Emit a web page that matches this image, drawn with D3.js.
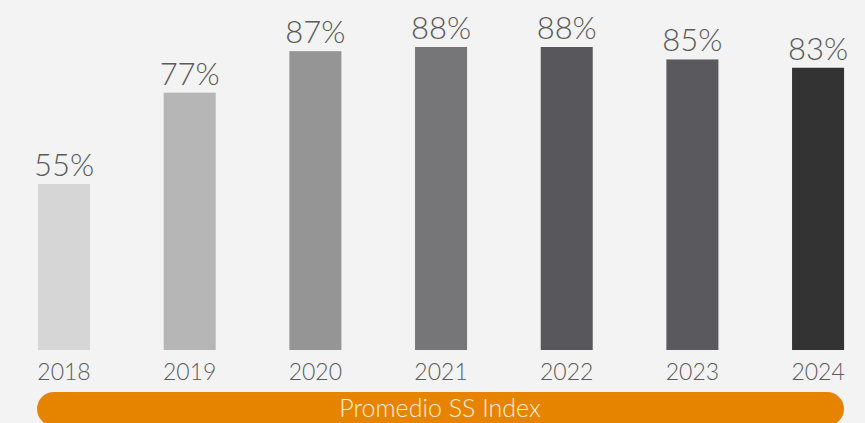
<!DOCTYPE html>
<html>
<head>
<meta charset="utf-8">
<script src="https://cdn.jsdelivr.net/npm/d3@7"></script>
<style>
  html, body { margin: 0; padding: 0; background: #f3f3f3; }
  svg { display: block; }
</style>
</head>
<body>
<svg id="chart" width="865" height="423"></svg>
<script>
// Yearly average of the SS Index
const years = ["2018", "2019", "2020", "2021", "2022", "2023", "2024"];
const values = [55, 77, 87, 88, 88, 85, 83];
const barColors = ["#d6d6d6", "#b6b6b7", "#959596", "#767678", "#58575b", "#5a595e", "#333333"];
const bannerLabel = "Promedio SS Index";

const W = 865, H = 423;
const svg = d3.select("#chart");

svg.append("rect").attr("width", W).attr("height", H).attr("fill", "#f3f3f3");

const x = d3.scaleBand()
  .domain(years)
  .range([1.2, 880.9])
  .paddingInner(0.586)
  .paddingOuter(0.293);

const y = d3.scaleLinear()
  .domain([15, 88])
  .range([350, 47]);

const font = "Lato, 'Open Sans', sans-serif";

// Bars
svg.selectAll("rect.bar")
  .data(values)
  .join("rect")
  .attr("class", "bar")
  .attr("x", (d, i) => x(years[i]))
  .attr("y", d => y(d))
  .attr("width", x.bandwidth())
  .attr("height", d => y(15) - y(d))
  .attr("fill", (d, i) => barColors[i]);

// Value labels
svg.selectAll("text.val")
  .data(values)
  .join("text")
  .attr("class", "val")
  .attr("x", (d, i) => x(years[i]) + x.bandwidth() / 2)
  .attr("y", d => y(d) - 8)
  .attr("text-anchor", "middle")
  .attr("font-family", font)
  .attr("font-weight", 300)
  .attr("font-size", 31)
  .attr("fill", "#5a5a5a")
  .text(d => d + "%");

// Year axis (labels only)
const xAxis = svg.append("g")
  .attr("transform", "translate(0,350)")
  .call(d3.axisBottom(x).tickSize(0).tickPadding(30));
xAxis.select(".domain").remove();
xAxis.selectAll("text")
  .attr("dy", 0)
  .attr("font-family", font)
  .attr("font-weight", 300)
  .attr("font-size", 23)
  .attr("fill", "#5c5c5c");

// Orange banner
svg.append("rect")
  .attr("x", 37)
  .attr("y", 392)
  .attr("width", 807)
  .attr("height", 34)
  .attr("rx", 17)
  .attr("fill", "#e68400");

svg.append("text")
  .attr("x", 440)
  .attr("y", 416.5)
  .attr("text-anchor", "middle")
  .attr("font-family", font)
  .attr("font-weight", 300)
  .attr("font-size", 25)
  .attr("fill", "#fbeedd")
  .text(bannerLabel);
</script>
</body>
</html>
